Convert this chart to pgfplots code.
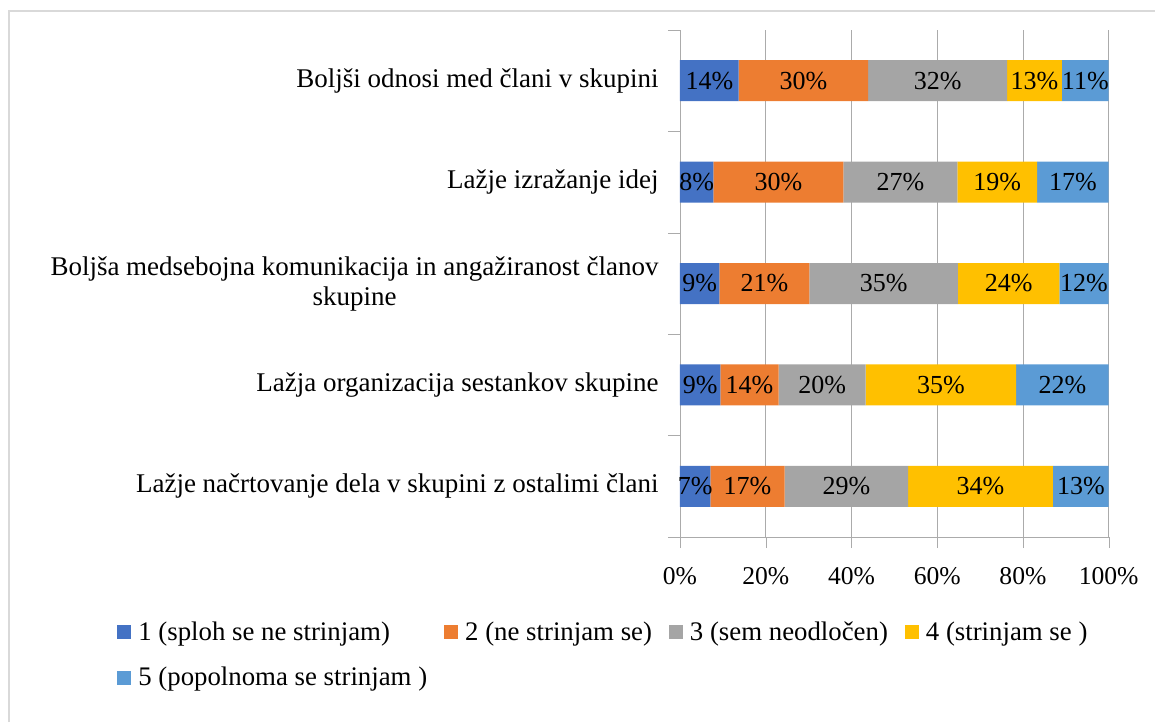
\documentclass[border=0pt]{standalone}
\usepackage{fontspec}
\setmainfont{Liberation Serif}
\usepackage{pgfplots}
\pgfplotsset{compat=1.18}
\definecolor{c1}{HTML}{4472C4}
\definecolor{c2}{HTML}{ED7D31}
\definecolor{c3}{HTML}{A5A5A5}
\definecolor{c4}{HTML}{FFC000}
\definecolor{c5}{HTML}{5B9BD5}
\definecolor{gridc}{HTML}{ABABAB}
\definecolor{framec}{HTML}{D9D9D9}
\newcommand\catf{\fontsize{13.5}{15}\selectfont}
\newcommand\legf{\fontsize{13.4}{14}\selectfont}
\newcommand\tckf{\fontsize{12.8}{14}\selectfont}
\newcommand\lblf{\fontsize{13}{14}\selectfont}
\pgfplotsset{sq/.style={legend image code/.code={\fill[##1] (0pt,-3.5pt) rectangle (7pt,3.5pt); \path (8.5pt,0pt);}}}
\begin{document}
\begin{tikzpicture}[font=\lblf]
\useasboundingbox (-340pt,-92.5pt) rectangle (237.5pt,268.5pt);
\draw[framec,line width=1.2pt] (-335.5pt,-92.5pt) -- (-335.5pt,263pt) -- (237.5pt,263pt);
\begin{axis}[at={(0,0)},anchor=south west,scale only axis,width=214.35pt,height=253.5pt,
  xbar stacked,bar width=20.5pt,xmin=0,xmax=100,ymin=-0.5,ymax=4.5,
  axis lines*=left,axis line style={gridc},tick style={gridc},
  xmajorgrids,grid style={gridc},
  tick align=outside,major tick length=5.5pt,minor tick length=6pt,
  major y tick style={draw=none},
  xtick={0,20,40,60,80,100},xticklabels={0\%,20\%,40\%,60\%,80\%,100\%},
  ytick={0,1,2,3,4},minor ytick={-0.5,0.5,1.5,2.5,3.5,4.5},
  yticklabels={Lažje načrtovanje dela v skupini z ostalimi člani,
    Lažja organizacija sestankov skupine,
    {Boljša medsebojna komunikacija in angažiranost članov\\skupine},
    Lažje izražanje idej,
    Boljši odnosi med člani v skupini},
  yticklabel style={align=center,font=\catf,inner sep=0pt,xshift=-5pt},
  xticklabel style={font=\tckf,yshift=-6pt},
  /pgf/number format/assume math mode=true,
  point meta=explicit,
  nodes near coords={\pgfmathprintnumber[fixed,precision=0]{\pgfplotspointmeta}\%},
  every node near coord/.append style={font=\lblf,text=black,anchor=center},
  legend columns=4,
  legend style={at={(-1.31327,-0.23274)},anchor=west,draw=none,fill=none,inner sep=0pt,
    font=\legf,row sep=8pt,/tikz/every even column/.append style={column sep=6.5pt}},
  legend cell align=left]
\addplot[sq,fill=c1,draw=none] coordinates {(7.1,0) [7.1] (9.4,1) [9.4] (9.2,2) [9.2] (7.8,3) [7.8] (13.7,4) [13.7]};
\addlegendentry{1 (sploh se ne strinjam)}
\addplot[sq,fill=c2,draw=none] coordinates {(17.3,0) [17.3] (13.6,1) [13.6] (21.0,2) [21.0] (30.3,3) [30.3] (30.2,4) [30.2]};
\addlegendentry{2 (ne strinjam se)}
\addplot[sq,fill=c3,draw=none] coordinates {(28.8,0) [28.8] (20.3,1) [20.3] (34.6,2) [34.6] (26.6,3) [26.6] (32.4,4) [32.4]};
\addlegendentry{3 (sem neodločen)}
\addplot[sq,fill=c4,draw=none] coordinates {(33.8,0) [33.8] (35.1,1) [35.1] (23.7,2) [23.7] (18.6,3) [18.6] (12.8,4) [12.8]};
\addlegendentry{4 (strinjam se )}
\addplot[sq,fill=c5,draw=none] coordinates {(13.0,0) [13.0] (21.6,1) [21.6] (11.5,2) [11.5] (16.7,3) [16.7] (10.9,4) [10.9]};
\addlegendentry{5 (popolnoma se strinjam )}
\end{axis}
\end{tikzpicture}
\end{document}
